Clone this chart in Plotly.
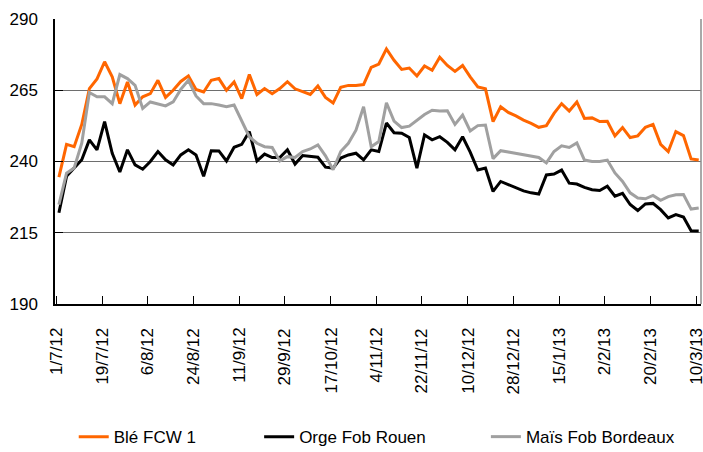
import pandas as pd
import plotly.graph_objects as go

# x categories: one observation every 3 days from 2 July 2012
dates = pd.date_range("2012-07-02", periods=85, freq="3D")

ble_fcw1 = [234.5, 246, 245.2, 253, 265.6, 269, 275, 269.7, 260.3, 267.9, 259.8, 262.7, 263.8, 268.5, 262.5,
            265, 268.1, 270, 265.3, 264.4, 268.5, 269.1, 265, 267.9, 262.1, 270.5, 263.5, 265.6,
            263.8, 265.6, 268, 265.5, 264.5, 263.5, 266.5, 262.5, 260.5, 266, 266.7, 266.7, 267, 273,
            274.2, 279.5, 275.5, 272.3, 272.8, 270, 273.5, 272, 276.6, 273.7, 271.6, 273.7, 269.7, 266.2,
            265.5, 254, 259.2, 257.2, 256, 254.5, 253.4, 252, 252.6, 256.9, 260.3, 257.7, 260.9, 255.1,
            255.3, 254, 254.1, 249, 251.9, 248.4, 249, 252, 253, 246, 243.5, 250.5, 249.1, 240.9, 240.5]

orge_fob_rouen = [222, 234.8, 237.7, 240.6, 247.6, 244.1, 254, 242.9, 236.3, 244.1, 238.8, 237.3, 240, 243.5, 240.6,
                  238.8, 242.3, 244.1, 242.3, 234.8, 243.8, 243.7, 240.2, 245, 246, 250.5, 240.2, 242.6,
                  241.4, 241.4, 244.1, 239.1, 242.1, 241.7, 241.5, 238, 237.7, 241.2, 242.3, 242.9, 240.6, 244.1,
                  243.5, 253.5, 250.1, 249.9, 248.4, 237.7, 249.3, 247.6, 248.7, 246.7, 244.1, 248.7, 243.3, 237,
                  237.7, 229.5, 233, 231.9, 230.7, 229.7, 229, 228.6, 235.3, 235.6, 237, 232.4, 232.1, 230.9,
                  230.1, 229.8, 231.3, 227.8, 228.8, 224.9, 222.8, 225.1, 225.3, 223.1, 220.2, 221.4, 220.5, 215.7, 215.6]

mais_fob_bordeaux = [224.9, 235.9, 237.7, 246.4, 264.2, 262.7, 262.7, 260.3, 270.5, 269.1, 266.7, 258.6, 260.9, 260.3, 259.5,
                     260.9, 265.3, 268.5, 263, 260.3, 260.3, 259.8, 259.2, 259.8, 254.5, 248.7, 246.4, 245.2,
                     244.9, 240.2, 241.7, 241.4, 243.5, 244.4, 245.8, 242, 237.1, 243.5, 246.4, 251, 259.2, 245.2,
                     247, 260.6, 254.2, 251.9, 252.4, 254.5, 256.5, 258, 257.7, 257.8, 253, 256.3, 250.7, 252.6,
                     252.8, 241, 243.8, 243.3, 242.8, 242.4, 242, 241.4, 239.5, 243.5, 245.5, 244.9, 246.5, 240.5,
                     240, 240, 240.5, 236, 233, 229, 227.2, 226.9, 228.1, 226.4, 227.7, 228.3, 228.4, 223.3, 223.7]

tick_dates = ["2012-07-01", "2012-07-19", "2012-08-06", "2012-08-24", "2012-09-11", "2012-09-29",
              "2012-10-17", "2012-11-04", "2012-11-22", "2012-12-10", "2012-12-28", "2013-01-15",
              "2013-02-02", "2013-02-20", "2013-03-10"]
tick_labels = ["1/7/12", "19/7/12", "6/8/12", "24/8/12", "11/9/12", "29/9/12", "17/10/12", "4/11/12",
               "22/11/12", "10/12/12", "28/12/12", "15/1/13", "2/2/13", "20/2/13", "10/3/13"]
y_ticks = [190, 215, 240, 265, 290]

series = [
    ("Blé FCW 1", ble_fcw1, "#FF6600", "legend"),
    ("Orge Fob Rouen", orge_fob_rouen, "#000000", "legend2"),
    ("Maïs Fob Bordeaux", mais_fob_bordeaux, "#A0A0A0", "legend3"),
]

FONT = "Liberation Sans, Arial, sans-serif"

fig = go.Figure()
for name, vals, col, lg in series:
    fig.add_trace(go.Scatter(x=dates, y=vals, name=name, mode="lines",
                             line=dict(color=col, width=3), legend=lg))

# rotated date labels under each tick, centred on the tick
for d, lab in zip(tick_dates, tick_labels):
    fig.add_annotation(x=d, xref="x", y=0, yref="paper", text=lab, textangle=-90,
                       showarrow=False, xanchor="center", yanchor="top", yshift=-22,
                       font=dict(size=17, family=FONT, color="#000000"))

legend_common = dict(orientation="h", xanchor="left", y=-0.467, yanchor="middle",
                     font=dict(size=17), bgcolor="rgba(0,0,0,0)")

fig.update_layout(
    width=703, height=452,
    margin=dict(l=55, r=2, t=19, b=148, autoexpand=False),
    paper_bgcolor="white", plot_bgcolor="white",
    font=dict(family=FONT, size=16, color="#000000"),
    showlegend=True,
    legend=dict(x=0.029, **legend_common),
    legend2=dict(x=0.316, **legend_common),
    legend3=dict(x=0.667, **legend_common),
    xaxis=dict(type="date", range=["2012-06-30 11:00", "2013-03-11 21:36"],
               tickmode="array", tickvals=tick_dates, showticklabels=False,
               ticks="inside", ticklen=8, tickcolor="#000000",
               showline=True, linecolor="#000000", linewidth=2,
               showgrid=False, zeroline=False, automargin=False),
    yaxis=dict(range=[190, 290], tickmode="array", tickvals=y_ticks,
               ticks="inside", ticklen=8, tickcolor="#000000",
               showline=True, linecolor="#000000", linewidth=1.5,
               showgrid=True, gridcolor="#6e6e6e", gridwidth=1,
               zeroline=False, tickfont=dict(size=17), ticklabelstandoff=12,
               automargin=False),
    shapes=[dict(type="line", xref="paper", yref="paper", x0=1, x1=1, y0=0, y1=1,
                 line=dict(color="#8c8c8c", width=1.5))],
)

# the page's default 8px body margin would push the figure off the window
fig.write_html("out.html", config={"displayModeBar": False},
               post_script="document.body.style.margin='0';")
